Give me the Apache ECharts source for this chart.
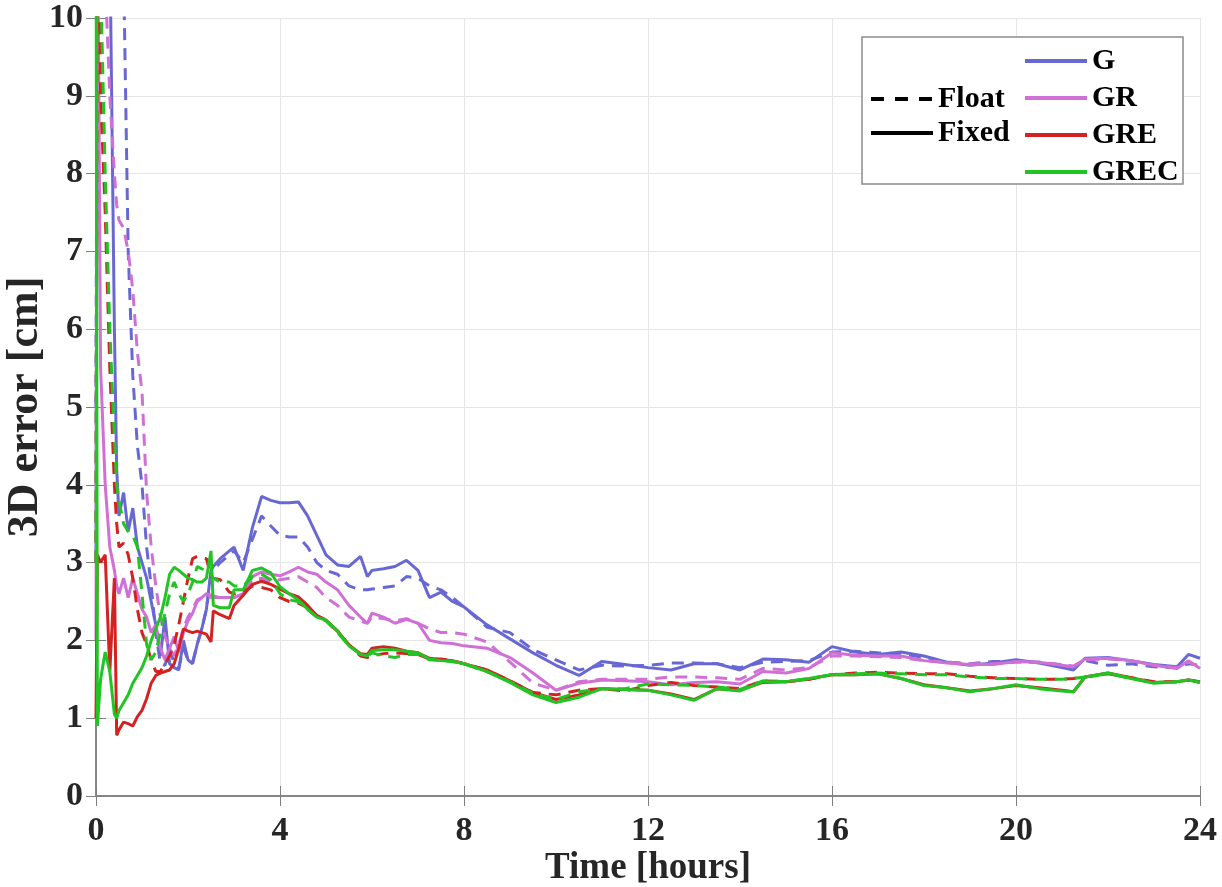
<!DOCTYPE html>
<html>
<head>
<meta charset="utf-8">
<script src="https://cdn.jsdelivr.net/npm/echarts@6/dist/echarts.min.js"></script>
<style>
  html, body { margin: 0; padding: 0; background: #fff; }
  #chart { width: 1222px; height: 887px; }
</style>
</head>
<body>
<div id="chart"></div>
<script>
// time axis (hours), denser at the start where the curves converge
var hours = [0, 0.03, 0.1, 0.2, 0.3, 0.4, 0.45, 0.5, 0.6, 0.7, 0.8, 0.9,
  1.0, 1.1, 1.2, 1.3, 1.4, 1.5, 1.6, 1.7, 1.8, 1.9, 2.0, 2.1, 2.2, 2.3, 2.4, 2.5, 2.55,
  2.7, 2.9, 3.0, 3.2, 3.4, 3.6, 3.8, 4.0, 4.2, 4.4, 4.6, 4.8,
  5.0, 5.25, 5.5, 5.75, 5.9, 6.0, 6.25, 6.5, 6.75, 7.0, 7.25, 7.5, 7.75, 8.0,
  8.5, 9.0, 9.5, 10.0, 10.5, 11.0, 11.5, 12.0, 12.5, 13.0, 13.5, 14.0, 14.5, 15.0,
  15.5, 16.0, 16.5, 17.0, 17.5, 18.0, 18.5, 19.0, 19.5, 20.0, 20.5, 21.0, 21.25,
  21.5, 22.0, 22.5, 23.0, 23.5, 23.75, 24.0];

// 3D error [cm]
var gFloat = [5, 12, 14, 14, 14, 14, 14, 14, 10.6, 7.0, 5.4, 4.5,
  4.0, 3.2, 2.7, 2.1, 1.7, 1.68, 1.9, 1.7, 1.65, 1.9, 1.75, 1.72, 1.95, 2.15, 2.4, 2.85, 2.9,
  3.0, 3.1, 3.15, 3.0, 3.3, 3.6, 3.47, 3.35, 3.33, 3.33, 3.2, 3.0,
  2.9, 2.85, 2.7, 2.65, 2.65, 2.66, 2.68, 2.7, 2.82, 2.8, 2.7, 2.65, 2.55, 2.43,
  2.17, 2.1, 1.88, 1.75, 1.62, 1.68, 1.67, 1.68, 1.71, 1.71, 1.7, 1.65, 1.72, 1.73,
  1.74, 1.85, 1.86, 1.84, 1.83, 1.78, 1.72, 1.7, 1.73, 1.73, 1.72, 1.68, 1.66,
  1.74, 1.68, 1.7, 1.66, 1.65, 1.7, 1.68];
var gFixed = [3.0, 12, 12, 12, 11, 6.0, 4.2, 3.6, 3.9, 3.4, 3.7, 3.2,
  3.0, 2.8, 2.5, 2.2, 1.8, 2.3, 1.7, 1.65, 1.62, 2.0, 1.75, 1.7, 1.95, 2.15, 2.4, 2.9, 2.95,
  3.05, 3.15, 3.2, 2.9, 3.45, 3.85, 3.8, 3.77, 3.77, 3.78, 3.6, 3.35,
  3.1, 2.97, 2.95, 3.08, 2.82, 2.9, 2.92, 2.95, 3.03, 2.9, 2.55, 2.62, 2.5, 2.43,
  2.2, 2.02, 1.84, 1.68, 1.55, 1.73, 1.69, 1.65, 1.62, 1.7, 1.7, 1.62, 1.76, 1.75,
  1.72, 1.92, 1.85, 1.82, 1.85, 1.8, 1.72, 1.68, 1.71, 1.75, 1.71, 1.65, 1.62,
  1.77, 1.78, 1.74, 1.69, 1.66, 1.82, 1.77];
var grFloat = [4, 12, 12, 10.5, 9.0, 8.0, 7.6, 7.4, 7.3, 7.0, 6.5, 5.7,
  5.2, 3.9, 3.2, 2.7, 2.3, 2.05, 1.9, 1.8, 1.95, 2.15, 2.3, 2.4, 2.52, 2.55, 2.6, 2.55, 2.55,
  2.55, 2.55, 2.55, 2.6, 2.78, 2.8, 2.75, 2.78, 2.8, 2.82, 2.75, 2.68,
  2.55, 2.45, 2.3, 2.25, 2.22, 2.3, 2.28, 2.25, 2.28, 2.22, 2.15, 2.1, 2.1, 2.08,
  1.98, 1.72, 1.45, 1.36, 1.47, 1.5, 1.5, 1.5, 1.53, 1.53, 1.52, 1.5, 1.64, 1.62,
  1.65, 1.8, 1.8, 1.79, 1.78, 1.74, 1.72, 1.7, 1.7, 1.72, 1.72, 1.69, 1.67,
  1.75, 1.76, 1.74, 1.68, 1.65, 1.72, 1.66];
var grFixed = [2.0, 12, 5.5, 4.0, 3.2, 2.9, 2.7, 2.6, 2.8, 2.55, 2.8, 2.6,
  2.4, 2.3, 2.1, 2.2, 1.9, 1.75, 1.9, 2.05, 1.85, 2.1, 2.25, 2.35, 2.5, 2.55, 2.6, 2.58, 2.57,
  2.55, 2.55, 2.55, 2.6, 2.82, 2.88, 2.85, 2.83, 2.88, 2.94, 2.88, 2.85,
  2.75, 2.65, 2.45, 2.3, 2.22, 2.35, 2.3, 2.22, 2.27, 2.22, 2.0, 1.97, 1.96, 1.93,
  1.9, 1.78, 1.58, 1.36, 1.45, 1.49, 1.48, 1.47, 1.43, 1.46, 1.47, 1.44, 1.6, 1.58,
  1.64, 1.84, 1.81, 1.8, 1.8, 1.74, 1.71, 1.69, 1.69, 1.73, 1.72, 1.68, 1.66,
  1.76, 1.77, 1.74, 1.68, 1.64, 1.74, 1.64];
var greFloat = [3, 12, 9.0, 7.5, 5.5, 4.0, 3.5, 3.2, 3.25, 3.1, 2.8, 2.4,
  2.1, 1.95, 1.75, 1.6, 1.6, 1.7, 1.8, 1.95, 2.2, 2.5, 2.8, 3.05, 3.08, 3.06, 3.05, 2.82, 2.8,
  2.78, 2.62, 2.6, 2.62, 2.7, 2.68, 2.65, 2.55, 2.5, 2.48, 2.42, 2.32,
  2.26, 2.12, 1.94, 1.8, 1.78, 1.8, 1.83, 1.84, 1.83, 1.82, 1.76, 1.76, 1.74, 1.7,
  1.62, 1.48, 1.33, 1.3, 1.36, 1.38, 1.35, 1.42, 1.46, 1.42, 1.4, 1.38, 1.48, 1.47,
  1.5, 1.56, 1.58, 1.59, 1.58, 1.57, 1.57, 1.54, 1.52, 1.51, 1.5, 1.5, 1.51,
  1.53, 1.57, 1.52, 1.47, 1.47, 1.49, 1.47];
var greFixed = [1.0, 3.1, 3.0, 3.1, 1.6, 2.8, 0.78, 0.85, 0.95, 0.93, 0.9, 1.02,
  1.1, 1.25, 1.45, 1.55, 1.58, 1.6, 1.62, 1.7, 1.9, 2.15, 2.12, 2.1, 2.12, 2.1, 2.08, 1.98, 2.38,
  2.33, 2.28, 2.45, 2.58, 2.72, 2.76, 2.72, 2.66, 2.6, 2.56, 2.45, 2.32,
  2.26, 2.12, 1.94, 1.83, 1.82, 1.9, 1.92, 1.9, 1.86, 1.84, 1.77, 1.75, 1.74, 1.7,
  1.62, 1.48, 1.33, 1.24, 1.3, 1.38, 1.37, 1.36, 1.31, 1.24, 1.38, 1.36, 1.46, 1.47,
  1.5, 1.56, 1.56, 1.57, 1.51, 1.43, 1.39, 1.35, 1.38, 1.42, 1.39, 1.36, 1.34,
  1.53, 1.58, 1.52, 1.46, 1.47, 1.49, 1.47];
var grecFloat = [3, 12, 10.5, 8.0, 6.0, 4.6, 4.0, 3.8, 3.5, 3.4, 3.35, 3.2,
  2.6, 1.95, 1.75, 1.85, 2.1, 2.35, 2.6, 2.75, 2.6, 2.5, 2.6, 2.75, 2.95, 2.92, 2.9, 2.85, 2.8,
  2.75, 2.75, 2.7, 2.7, 2.82, 2.85, 2.78, 2.6, 2.52, 2.5, 2.4, 2.3,
  2.25, 2.1, 1.93, 1.82, 1.8, 1.84, 1.8, 1.78, 1.82, 1.82, 1.75, 1.74, 1.73, 1.7,
  1.6, 1.47, 1.32, 1.24, 1.34, 1.38, 1.38, 1.44, 1.43, 1.42, 1.4, 1.37, 1.48, 1.47,
  1.51, 1.56, 1.57, 1.58, 1.57, 1.56, 1.56, 1.53, 1.51, 1.51, 1.5, 1.5, 1.51,
  1.53, 1.57, 1.51, 1.46, 1.47, 1.49, 1.46];
var grecFixed = [12, 0.9, 1.5, 1.85, 1.6, 1.05, 1.0, 1.1, 1.2, 1.3, 1.45, 1.55,
  1.65, 1.8, 2.0, 2.15, 2.3, 2.55, 2.85, 2.94, 2.9, 2.85, 2.8, 2.78, 2.75, 2.75, 2.8, 3.15, 2.45,
  2.42, 2.42, 2.65, 2.65, 2.9, 2.93, 2.87, 2.69, 2.6, 2.52, 2.4, 2.3,
  2.26, 2.12, 1.93, 1.82, 1.8, 1.87, 1.88, 1.88, 1.86, 1.84, 1.76, 1.74, 1.73, 1.7,
  1.6, 1.46, 1.3, 1.2, 1.27, 1.38, 1.37, 1.36, 1.3, 1.23, 1.38, 1.35, 1.47, 1.47,
  1.51, 1.56, 1.56, 1.57, 1.51, 1.42, 1.39, 1.34, 1.38, 1.43, 1.38, 1.35, 1.34,
  1.53, 1.58, 1.51, 1.45, 1.47, 1.49, 1.46];

var systems = ['G', 'GR', 'GRE', 'GREC'];
var colors = ['#6868d4', '#d070d6', '#d42222', '#22c424'];
var floatSets = [gFloat, grFloat, greFloat, grecFloat];
var fixedSets = [gFixed, grFixed, greFixed, grecFixed];

var FONT = 'Liberation Serif';

function pairs(vals) {
  return hours.map(function (h, i) { return [h, vals[i]]; });
}

var series = [];
systems.forEach(function (name, k) {
  series.push({
    name: name + ' Float', type: 'line', symbol: 'none',
    data: pairs(floatSets[k]),
    lineStyle: { color: colors[k], width: 3, type: [12, 8] },
    itemStyle: { color: colors[k] }
  });
  series.push({
    name: name, type: 'line', symbol: 'none',
    data: pairs(fixedSets[k]),
    lineStyle: { color: colors[k], width: 3 },
    itemStyle: { color: colors[k] }
  });
});
// legend-only entries for line style
series.push({ name: 'Float', type: 'line', symbol: 'none', data: [],
  lineStyle: { color: '#000', width: 3, type: [13, 11] }, itemStyle: { color: '#000' } });
series.push({ name: 'Fixed', type: 'line', symbol: 'none', data: [],
  lineStyle: { color: '#000', width: 3 }, itemStyle: { color: '#000' } });

var axisGray = '#808080';
var tickLabel = { color: '#262626', fontFamily: FONT, fontWeight: 'bold', fontSize: 34 };
var legendText = { color: '#000', fontFamily: FONT, fontWeight: 'bold', fontSize: 30, lineHeight: 30 };

var chart = echarts.init(document.getElementById('chart'));
chart.setOption({
  animation: false,
  backgroundColor: '#fff',
  grid: { left: 96, right: 22, top: 18, bottom: 91, outerBoundsMode: 'none', containLabel: false },
  xAxis: [{
    type: 'value', min: 0, max: 24, interval: 4,
    name: 'Time [hours]', nameLocation: 'middle', nameGap: 54, nameMoveOverlap: false,
    nameTextStyle: { color: '#262626', fontFamily: FONT, fontWeight: 'bold', fontSize: 37 },
    axisLine: { lineStyle: { color: axisGray, width: 1.5 } },
    axisTick: { inside: true, length: 10, lineStyle: { color: axisGray } },
    axisLabel: Object.assign({ margin: 18 }, tickLabel),
    splitLine: { show: true, lineStyle: { color: '#e6e6e6', width: 1 } }
  }, {
    type: 'value', min: 0, max: 24, interval: 4, position: 'top',
    axisLine: { lineStyle: { color: axisGray, width: 1.5 } },
    axisTick: { inside: true, length: 10, lineStyle: { color: axisGray } },
    axisLabel: { show: false }, splitLine: { show: false }
  }],
  yAxis: [{
    type: 'value', min: 0, max: 10, interval: 1,
    name: '3D error [cm]', nameLocation: 'middle', nameGap: 48, nameMoveOverlap: false,
    nameTextStyle: { color: '#262626', fontFamily: FONT, fontWeight: 'bold', fontSize: 44 },
    axisLine: { show: true, lineStyle: { color: axisGray, width: 1.5 } },
    axisTick: { show: true, inside: true, length: 10, lineStyle: { color: axisGray } },
    axisLabel: Object.assign({ margin: 13 }, tickLabel),
    splitLine: { show: true, lineStyle: { color: '#e6e6e6', width: 1 } }
  }, {
    type: 'value', min: 0, max: 10, interval: 1, position: 'right',
    axisLine: { show: true, lineStyle: { color: axisGray, width: 1.5 } },
    axisTick: { show: true, inside: true, length: 10, lineStyle: { color: axisGray } },
    axisLabel: { show: false }, splitLine: { show: false }
  }],
  graphic: [{
    type: 'rect', z: 3,
    shape: { x: 862, y: 37, width: 321, height: 147 },
    style: { fill: '#fff', stroke: '#8c8c8c', lineWidth: 1.5 }
  }],
  legend: [{
    data: systems, orient: 'vertical', left: 1018, top: 41,
    itemWidth: 62, itemHeight: 30, itemGap: 7, z: 5,
    itemStyle: { opacity: 0 }, lineStyle: { width: 4 },
    textStyle: legendText
  }, {
    data: ['Float', 'Fixed'], orient: 'vertical', left: 864, top: 79,
    itemWidth: 62, itemHeight: 30, itemGap: 4, z: 5,
    itemStyle: { opacity: 0 }, lineStyle: { width: 4 },
    textStyle: legendText
  }],
  series: series
});
</script>
</body>
</html>
